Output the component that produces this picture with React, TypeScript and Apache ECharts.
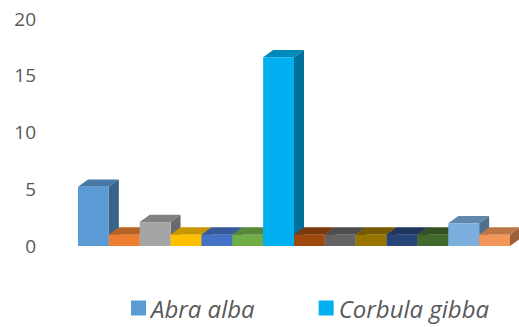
import React, { useEffect, useRef } from "react";
import * as echarts from "echarts";

// Series (species) shown as 3D columns, left to right
const seriesNames = [
  "Abra alba", "Series 2", "Series 3", "Series 4", "Series 5", "Series 6",
  "Corbula gibba", "Series 8", "Series 9", "Series 10", "Series 11", "Series 12",
  "Series 13", "Series 14",
];
const seriesValues = [5.2, 1, 2.1, 1, 1, 1, 16.6, 1, 1, 1, 1, 1, 2, 1];
const seriesColors = [
  "#5B9BD5", "#ED7D31", "#A5A5A5", "#FFC000", "#4472C4", "#70AD47",
  "#00B0F0", "#9E480E", "#636363", "#997300", "#264478", "#43682B",
  "#7CAFDD", "#F1975A",
];
const legendNames = ["Abra alba", "Corbula gibba"];
const yTicks = { min: 0, max: 20, interval: 5 };

const DX = 10;
const DY = 7.3;

function shade(hex: string, f: number): string {
  const n = parseInt(hex.slice(1), 16);
  const r = Math.round(((n >> 16) & 255) * f);
  const g = Math.round(((n >> 8) & 255) * f);
  const b = Math.round((n & 255) * f);
  return `rgb(${r},${g},${b})`;
}

export default function App() {
  const ref = useRef<HTMLDivElement>(null);
  useEffect(() => {
    if (!ref.current) return;
    const chart = echarts.init(ref.current, undefined, { renderer: "svg" });
    const cats = seriesNames.map((_, i) => String(i));
    const series = seriesNames.map((name, i) => {
      const color = seriesColors[i];
      return {
        type: "custom" as const,
        name,
        clip: false,
        itemStyle: { color },
        data: [[i, seriesValues[i]]],
        renderItem: (params: any, api: any) => {
          const xi = api.value(0);
          const v = api.value(1);
          const base = api.coord([xi, 0]);
          const top = api.coord([xi, v]);
          const w = api.size([1, 0])[0];
          const x0 = base[0] - w / 2;
          const x1 = base[0] + w / 2;
          const yb = base[1];
          const yt = top[1];
          return {
            type: "group",
            children: [
              {
                type: "polygon",
                shape: { points: [[x0, yt], [x1, yt], [x1 + DX, yt - DY], [x0 + DX, yt - DY]] },
                style: { fill: shade(color, 0.78) },
              },
              {
                type: "polygon",
                shape: { points: [[x1, yt], [x1 + DX, yt - DY], [x1 + DX, yb - DY], [x1, yb]] },
                style: { fill: shade(color, 0.64) },
              },
              {
                type: "rect",
                shape: { x: x0, y: yt, width: w, height: yb - yt },
                style: { fill: color },
              },
            ],
          };
        },
      };
    });
    chart.setOption({
      animation: false,
      grid: { left: 78, right: 9, top: 18.5, bottom: 327 - 246 },
      xAxis: {
        type: "category",
        data: cats,
        axisLine: { show: false },
        axisTick: { show: false },
        axisLabel: { show: false },
        splitLine: { show: false },
      },
      yAxis: {
        type: "value",
        min: yTicks.min,
        max: yTicks.max,
        interval: yTicks.interval,
        axisLine: { show: false },
        axisTick: { show: false },
        splitLine: { show: false },
        axisLabel: {
          margin: 42,
          fontSize: 19,
          color: "#595959",
          fontFamily: "Open Sans",
        },
      },
      legend: {
        data: legendNames,
        left: 131,
        top: 295,
        padding: 0,
        itemWidth: 15,
        itemHeight: 15,
        icon: "rect",
        itemGap: 64,
        textStyle: {
          fontSize: 24,
          fontStyle: "italic",
          color: "#595959",
          fontFamily: "Open Sans",
          lineHeight: 26,
        },
      },
      series,
    });
    return () => chart.dispose();
  }, []);
  return (
    <div
      ref={ref}
      style={{ position: "fixed", left: 0, top: 0, width: 519, height: 327, background: "#fff" }}
    />
  );
}
